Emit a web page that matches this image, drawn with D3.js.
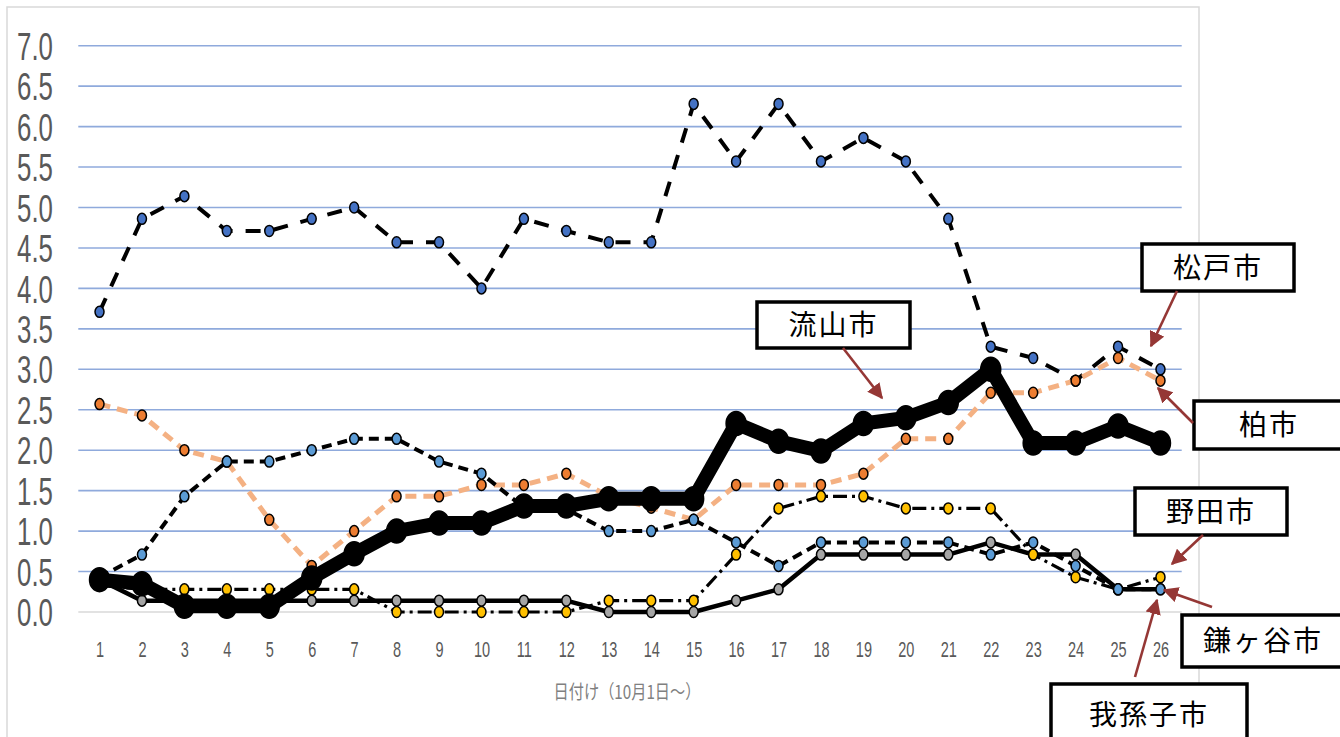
<!DOCTYPE html>
<html><head><meta charset="utf-8">
<script src="https://cdn.jsdelivr.net/npm/d3@7/dist/d3.min.js"></script>
<style>
html,body{margin:0;padding:0;background:#fff;}
svg{display:block;}
</style></head>
<body>
<svg id="chart" width="1340" height="737"></svg>
<script>
// ---- data ----
const days = ["1","2","3","4","5","6","7","8","9","10","11","12","13","14","15","16","17","18","19","20","21","22","23","24","25","26"];
const yTicks = [0,0.5,1,1.5,2,2.5,3,3.5,4,4.5,5,5.5,6,6.5,7];
const matsudo   = [3.71,4.86,5.14,4.71,4.71,4.86,5.0,4.57,4.57,4.0,4.86,4.71,4.57,4.57,6.28,5.57,6.28,5.57,5.86,5.57,4.86,3.28,3.14,2.86,3.28,3.0];
const kashiwa   = [2.57,2.43,2.0,1.86,1.14,0.57,1.0,1.43,1.43,1.57,1.57,1.71,1.43,1.29,1.14,1.57,1.57,1.57,1.71,2.14,2.14,2.71,2.71,2.86,3.14,2.86];
const abiko     = [0.4,0.14,0.14,0.14,0.14,0.14,0.14,0.14,0.14,0.14,0.14,0.14,0,0,0,0.14,0.28,0.71,0.71,0.71,0.71,0.86,0.71,0.71,0.28,0.28];
const noda      = [0.33,0.28,0.28,0.28,0.28,0.28,0.28,0,0,0,0,0,0.14,0.14,0.14,0.71,1.28,1.43,1.43,1.28,1.28,1.28,0.71,0.43,0.28,0.43];
const kamagaya  = [0.43,0.71,1.43,1.86,1.86,2.0,2.14,2.14,1.86,1.71,1.29,1.27,1.0,1.0,1.14,0.86,0.57,0.86,0.86,0.86,0.86,0.71,0.86,0.57,0.28,0.28];
const nagareyama= [0.4,0.35,0.07,0.07,0.07,0.42,0.72,1.0,1.1,1.1,1.31,1.31,1.4,1.4,1.4,2.33,2.11,1.99,2.33,2.4,2.59,3.0,2.09,2.09,2.3,2.09];
const axisTitle = "日付け（10月1日～）";
const callouts = [
  {name:"松戸市",   box:[1142,244,152,47], arrow:[1177,291,1151,346]},
  {name:"流山市",   box:[757,302,153,46],  arrow:[843,348,882,398]},
  {name:"柏市",     box:[1194,401,150,48], arrow:[1193,423,1158,388]},
  {name:"野田市",   box:[1135,488,152,47], arrow:[1203,535,1172,564]},
  {name:"鎌ヶ谷市", box:[1182,615,162,52], arrow:[1212,607,1164,590]},
  {name:"我孫子市", box:[1051,684,196,62], arrow:[1135,677,1157,600]}
];

// ---- styles per series (draw order) ----
const series = [
  {vals:matsudo,    stroke:"#000", width:4,   dash:"15,13",   fill:"#4472c4", rx:4.5, ry:5.5},
  {vals:kashiwa,    stroke:"#f4b183", width:5, dash:"11,7",   fill:"#ed7d31", rx:4.5, ry:5.5},
  {vals:abiko,      stroke:"#000", width:4.5, dash:null,      fill:"#a5a5a5", rx:4.5, ry:5.5},
  {vals:noda,       stroke:"#000", width:3.2, dash:"14,5,3,5",fill:"#ffc000", rx:4.5, ry:5.5},
  {vals:kamagaya,   stroke:"#000", width:4,   dash:"10,6",    fill:"#5b9bd5", rx:4.5, ry:5.5},
  {vals:nagareyama, stroke:"#000", width:14,  dash:null,      fill:"#000",    rx:10,  ry:12}
];

const svg = d3.select("#chart");
svg.append("rect").attr("x",7).attr("y",7).attr("width",1192).attr("height",745)
  .attr("fill","#fff").attr("stroke","#d9d9d9").attr("stroke-width",1.5);

const x = d3.scalePoint().domain(days).range([78.3,1181.7]).padding(0.5);
const y = d3.scaleLinear().domain([0,7]).range([612,45.7]);

// gridlines
svg.append("g").selectAll("line").data(yTicks).join("line")
  .attr("x1",78.3).attr("x2",1181.7)
  .attr("y1",d=>y(d)).attr("y2",d=>y(d))
  .attr("stroke",d=>d===0?"#d9d9d9":"#8faadc").attr("stroke-width",1.6);

// y axis
const yAxis = svg.append("g").attr("transform","translate(53,0)")
  .call(d3.axisLeft(y).tickValues(yTicks).tickSize(0).tickFormat(d3.format(".1f")));
yAxis.select(".domain").remove();
yAxis.selectAll("text").attr("x",0).attr("dy","0.36em")
  .attr("transform","scale(0.68,1)")
  .attr("font-family","'Liberation Sans',Arial,sans-serif").attr("font-size",38)
  .attr("fill","#595959").attr("text-anchor","end");

// x axis
const xAxis = svg.append("g").attr("transform","translate(0,641)")
  .call(d3.axisBottom(x).tickSize(0));
xAxis.select(".domain").remove();
xAxis.selectAll(".tick").each(function(){
  const t = d3.select(this).select("text");
  t.attr("y",0).attr("dy","0.72em").attr("transform","scale(0.66,1)")
   .attr("font-family","'Liberation Sans',Arial,sans-serif").attr("font-size",22)
   .attr("fill","#595959").attr("text-anchor","middle");
});

// axis title
svg.append("text").attr("transform","translate(627,699) scale(0.8,1)")
  .attr("text-anchor","middle").attr("font-family","'Noto Sans CJK JP',sans-serif")
  .attr("font-size",19).attr("fill","#808080").text(axisTitle);

// series
const line = d3.line().x((d,i)=>x(days[i])).y(d=>y(d));
series.forEach(s=>{
  const g = svg.append("g");
  g.append("path").datum(s.vals).attr("d",line).attr("fill","none")
    .attr("stroke",s.stroke).attr("stroke-width",s.width)
    .attr("stroke-dasharray",s.dash).attr("stroke-linejoin","round");
  g.selectAll("ellipse").data(s.vals).join("ellipse")
    .attr("cx",(d,i)=>x(days[i])).attr("cy",d=>y(d))
    .attr("rx",s.rx).attr("ry",s.ry)
    .attr("fill",s.fill).attr("stroke","#000").attr("stroke-width",1.5);
});

// callouts
const defs = svg.append("defs");
defs.append("marker").attr("id","arr").attr("viewBox","0 0 10 10")
  .attr("refX",9).attr("refY",5).attr("markerWidth",6).attr("markerHeight",6)
  .attr("markerUnits","strokeWidth").attr("orient","auto")
  .append("path").attr("d","M0,0 L10,5 L0,10 Z").attr("fill","#953735");

callouts.forEach(c=>{
  const [bx,by,bw,bh] = c.box;
  svg.append("rect").attr("x",bx).attr("y",by).attr("width",bw).attr("height",bh)
    .attr("fill","#fff").attr("stroke","#000").attr("stroke-width",3.5);
  svg.append("text").attr("x",bx+bw/2).attr("y",by+bh/2).attr("dy","0.36em")
    .attr("text-anchor","middle").attr("font-family","'Noto Sans CJK JP',sans-serif")
    .attr("font-size",28).attr("letter-spacing",2).attr("fill","#000").text(c.name);
  const [x1,y1,x2,y2] = c.arrow;
  svg.append("line").attr("x1",x1).attr("y1",y1).attr("x2",x2).attr("y2",y2)
    .attr("stroke","#953735").attr("stroke-width",2.6).attr("marker-end","url(#arr)");
});
</script>
</body></html>
